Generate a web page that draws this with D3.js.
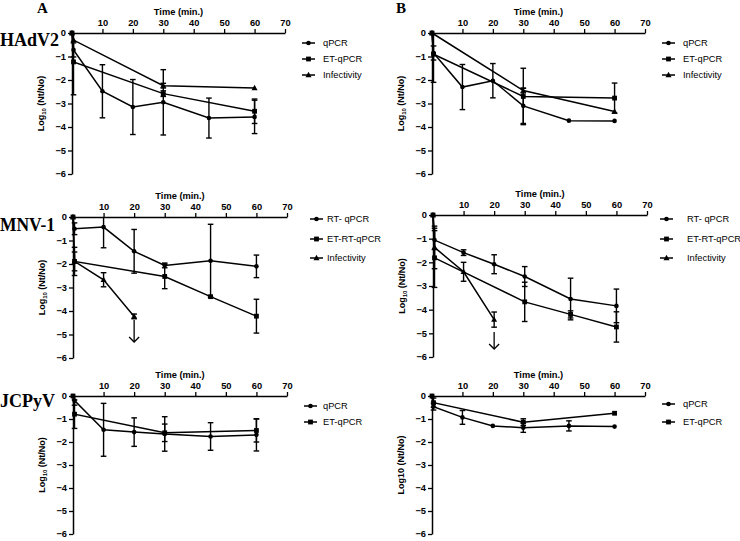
<!DOCTYPE html>
<html><head><meta charset="utf-8">
<script src="https://cdn.jsdelivr.net/npm/d3@7"></script>
<style>body{margin:0;background:#fff}svg{display:block}</style>
</head><body>
<script>
// ---------- data ----------
const times = [0, 0.5, 10, 20, 30, 45, 60];
const xTicks = [10, 20, 30, 40, 50, 60, 70];
const yTicks = [0, -1, -2, -3, -4, -5, -6];

// HAdV2, panel A
const hadvA_qpcr      = [0, -0.72, -2.48, -3.15, -2.95, -3.62, -3.57];
const hadvA_qpcrErr   = [0, 0.3, 1.13, 1.17, 1.39, 0.85, 0.71];
const hadvA_et        = [0, -1.23, null, null, -2.58, null, -3.33];
const hadvA_etErr     = [0, 1.4, null, null, 0.12, null, 0.52];
const hadvA_inf       = [0, -0.3, null, null, -2.24, null, -2.34];
const hadvA_infErr    = [0, 0, null, null, 0.1, null, 0];
// HAdV2, panel B
const hadvB_qpcr      = [0, -0.85, -2.30, -2.03, -3.10, -3.73, -3.74];
const hadvB_qpcrErr   = [0, 0.3, 0.96, 0.73, 0.75, 0, 0];
const hadvB_et        = [0, -0.9, null, null, -2.70, null, -2.77];
const hadvB_etErr     = [0, 1.2, null, null, 1.2, null, 0.64];
const hadvB_inf       = [0, null, null, null, -2.45, null, -3.34];
const hadvB_infErr    = [0, null, null, null, 0.1, null, 0];
// MNV-1, left
const mnvA_rt         = [0, -0.5, -0.43, -1.46, -2.06, -1.86, -2.10];
const mnvA_rtErr      = [0, 0.25, 0.88, 0.93, 0.1, 1.55, 0.48];
const mnvA_et         = [0, -1.89, null, null, -2.53, -3.39, -4.22];
const mnvA_etErr      = [0, 0.6, null, null, 0.52, 0, 0.72];
const mnvA_inf        = [0, -1.89, -2.67, -4.23, null, null, null];
const mnvA_infErr     = [0, 0.4, 0.3, 0.1, null, null, null];
// MNV-1, right
const mnvB_rt         = [0, -1.06, -1.59, -2.08, -2.60, -3.55, -3.84];
const mnvB_rtErr      = [0, 0.4, 0.12, 0.4, 0.42, 0.88, 0.71];
const mnvB_et         = [0, -1.81, null, null, -3.67, -4.20, -4.73];
const mnvB_etErr      = [0, 1.25, null, null, 0.83, 0.15, 0.64];
const mnvB_inf        = [0, -1.37, -2.40, -4.42, null, null, null];
const mnvB_infErr     = [0, 0.9, 0.4, 0.32, null, null, null];
// JCPyV, left
const jcA_qpcr        = [0, -0.2, -1.47, -1.57, -1.65, -1.76, -1.69];
const jcA_qpcrErr     = [0, 0.2, 1.15, 0.62, 0.75, 0.6, 0.7];
const jcA_et          = [0, -0.79, null, null, -1.60, null, -1.50];
const jcA_etErr       = [0, 0.62, null, null, 0.38, null, 0.5];
// JCPyV, right
const jcB_qpcr        = [0, -0.46, -0.93, -1.30, -1.38, -1.30, -1.33];
const jcB_qpcrErr     = [0, 0.15, 0.3, 0, 0.2, 0.22, 0];
const jcB_et          = [0, -0.29, null, null, -1.14, null, -0.75];
const jcB_etErr       = [0, 0.2, null, null, 0.15, null, 0];

const legendHAdV = ["qPCR", "ET-qPCR", "Infectivity"];
const legendMNV  = ["RT- qPCR", "ET-RT-qPCR", "Infectivity"];
const legendJC   = ["qPCR", "ET-qPCR"];
const markers = ["circle", "square", "triangle"];

// ---------- drawing ----------
const W = 740, H = 541;
const svg = d3.select("body").append("svg").attr("width", W).attr("height", H);

const panels = [
  {x0:72, x1:285, y0:33, y1:174, ylab:"sub", series:[[hadvA_qpcr,hadvA_qpcrErr],[hadvA_et,hadvA_etErr],[hadvA_inf,hadvA_infErr]], legend:legendHAdV, lx:302, ltx:323, ly:[43,59,75]},
  {x0:432, x1:645, y0:33, y1:174, ylab:"sub", series:[[hadvB_qpcr,hadvB_qpcrErr],[hadvB_et,hadvB_etErr],[hadvB_inf,hadvB_infErr]], legend:legendHAdV, lx:662, ltx:683, ly:[43,59,75]},
  {x0:73, x1:287, y0:217, y1:358, ylab:"sub", series:[[mnvA_rt,mnvA_rtErr],[mnvA_et,mnvA_etErr],[mnvA_inf,mnvA_infErr]], legend:legendMNV, lx:310, ltx:327, ly:[219,239,258], arrow:[20,320,342]},
  {x0:433, x1:647, y0:215, y1:357, ylab:"sub", series:[[mnvB_rt,mnvB_rtErr],[mnvB_et,mnvB_etErr],[mnvB_inf,mnvB_infErr]], legend:legendMNV, lx:660, ltx:687, ly:[219,239,258], arrow:[20,332,349]},
  {x0:73, x1:287, y0:396, y1:534, ylab:"sub", series:[[jcA_qpcr,jcA_qpcrErr],[jcA_et,jcA_etErr]], legend:legendJC, lx:304, ltx:323, ly:[406,422]},
  {x0:432, x1:645, y0:396, y1:534, ylab:"plain", series:[[jcB_qpcr,jcB_qpcrErr],[jcB_et,jcB_etErr]], legend:legendJC, lx:662, ltx:683, ly:[404,422]}
];

function drawMarker(g, type, cx, cy) {
  if (type === "circle") g.append("circle").attr("cx", cx).attr("cy", cy).attr("r", 2.3).attr("fill", "#000");
  else if (type === "square") g.append("rect").attr("x", cx-2.4).attr("y", cy-2.4).attr("width", 4.8).attr("height", 4.8).attr("fill", "#000");
  else g.append("path").attr("d", `M${cx},${cy-3.2}L${cx+3},${cy+2.2}L${cx-3},${cy+2.2}Z`).attr("fill", "#000");
}

panels.forEach(p => {
  const x = d3.scaleLinear().domain([0, 70]).range([p.x0, p.x1]);
  const y = d3.scaleLinear().domain([0, -6]).range([p.y0, p.y1]);
  const g = svg.append("g");

  // x axis on top
  const xa = g.append("g").attr("transform", `translate(0,${p.y0})`)
    .call(d3.axisTop(x).tickValues(xTicks).tickSize(4).tickPadding(3).tickSizeOuter(0));
  xa.select(".domain").attr("stroke-width", 1.5);
  xa.selectAll(".tick line").attr("stroke-width", 1.3);
  xa.selectAll("text").attr("font-family", "Arial, Liberation Sans, sans-serif").attr("font-weight", "bold").attr("font-size", 9.3);
  g.append("text").attr("x", (p.x0+p.x1)/2).attr("y", p.y0-18).attr("text-anchor", "middle")
    .attr("font-family", "Arial, Liberation Sans, sans-serif").attr("font-weight", "bold").attr("font-size", 9.3).text("Time (min.)");

  // y axis
  const ya = g.append("g").attr("transform", `translate(${p.x0},0)`)
    .call(d3.axisLeft(y).tickValues(yTicks).tickFormat(d3.format("d")).tickSize(4).tickPadding(2).tickSizeOuter(0));
  ya.select(".domain").attr("stroke-width", 1.5);
  ya.selectAll(".tick line").attr("stroke-width", 1.3);
  ya.selectAll("text").attr("font-family", "Arial, Liberation Sans, sans-serif").attr("font-weight", "bold").attr("font-size", 9.3);

  const yl = g.append("text").attr("transform", `translate(${p.x0-28},${(p.y0+p.y1)/2}) rotate(-90)`)
    .attr("text-anchor", "middle").attr("font-family", "Arial, Liberation Sans, sans-serif").attr("font-weight", "bold").attr("font-size", 9);
  if (p.ylab === "sub") {
    yl.append("tspan").text("Log");
    yl.append("tspan").attr("font-size", 6).attr("dy", 2).text("10");
    yl.append("tspan").attr("dy", -2).text(" (Nt/No)");
  } else yl.text("Log10 (Nt/No)");

  // series
  p.series.forEach(([vals, errs], si) => {
    const pts = times.map((t, i) => ({t, v: vals[i], e: errs[i]})).filter(d => d.v !== null);
    const line = d3.line().x(d => x(d.t)).y(d => y(d.v));
    g.append("path").attr("d", line(pts)).attr("fill", "none").attr("stroke", "#000").attr("stroke-width", 1.5);
    pts.forEach(d => {
      if (d.e) {
        const top = Math.min(0, d.v + d.e), bot = Math.max(-6, d.v - d.e);
        const cx = x(d.t);
        g.append("line").attr("x1", cx).attr("x2", cx).attr("y1", y(top)).attr("y2", y(bot)).attr("stroke", "#000").attr("stroke-width", 1.4);
        [top, bot].forEach(v => {
          if (v < 0) g.append("line").attr("x1", cx-2.8).attr("x2", cx+2.8).attr("y1", y(v)).attr("y2", y(v)).attr("stroke", "#000").attr("stroke-width", 1.4);
        });
      }
      drawMarker(g, markers[si], x(d.t), y(d.v));
    });
  });

  // legend
  p.legend.forEach((name, i) => {
    const ly = p.ly[i];
    g.append("line").attr("x1", p.lx).attr("x2", p.lx+13).attr("y1", ly).attr("y2", ly).attr("stroke", "#000").attr("stroke-width", 1.5);
    drawMarker(g, markers[i], p.lx+6.5, ly);
    g.append("text").attr("x", p.ltx).attr("y", ly+3.2).attr("font-family", "Arial, Liberation Sans, sans-serif").attr("font-size", 9.3).text(name);
  });

  // arrow
  if (p.arrow) {
    const ax = x(p.arrow[0]);
    g.append("line").attr("x1", ax).attr("x2", ax).attr("y1", p.arrow[1]).attr("y2", p.arrow[2]).attr("stroke", "#000").attr("stroke-width", 1.3);
    g.append("path").attr("d", `M${ax-5},${p.arrow[2]-5}L${ax},${p.arrow[2]}L${ax+5},${p.arrow[2]-5}`).attr("fill", "none").attr("stroke", "#000").attr("stroke-width", 1.3);
  }
});

// panel letters and virus labels
const serif = "Liberation Serif, Times New Roman, serif";
svg.append("text").attr("x", 37).attr("y", 13).attr("font-family", serif).attr("font-weight", "bold").attr("font-size", 15).text("A");
svg.append("text").attr("x", 396).attr("y", 13).attr("font-family", serif).attr("font-weight", "bold").attr("font-size", 15).text("B");
svg.append("text").attr("x", 0).attr("y", 46).attr("font-family", serif).attr("font-weight", "bold").attr("font-size", 18.5).attr("textLength", 59).attr("lengthAdjust", "spacingAndGlyphs").text("HAdV2");
svg.append("text").attr("x", 0).attr("y", 231).attr("font-family", serif).attr("font-weight", "bold").attr("font-size", 18).attr("textLength", 55).attr("lengthAdjust", "spacingAndGlyphs").text("MNV-1");
svg.append("text").attr("x", 0).attr("y", 407).attr("font-family", serif).attr("font-weight", "bold").attr("font-size", 18).attr("textLength", 55).attr("lengthAdjust", "spacingAndGlyphs").text("JCPyV");
</script>
</body></html>
